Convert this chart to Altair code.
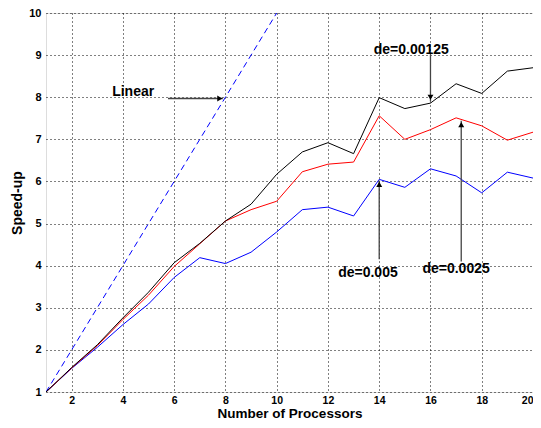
import altair as alt
import pandas as pd

procs = list(range(1, 21))
de_00125 = [1.0, 1.58, 2.12, 2.76, 3.37, 4.07, 4.53, 5.06, 5.46, 6.17, 6.70, 6.92, 6.66, 7.99, 7.73, 7.86, 8.32, 8.09, 8.62, 8.70]
de_0025 = [1.0, 1.57, 2.10, 2.72, 3.30, 3.98, 4.52, 5.06, 5.33, 5.53, 6.23, 6.41, 6.46, 7.56, 7.00, 7.23, 7.51, 7.32, 6.98, 7.17]
de_005 = [1.0, 1.56, 2.06, 2.60, 3.09, 3.72, 4.19, 4.05, 4.32, 4.80, 5.33, 5.39, 5.18, 6.05, 5.86, 6.30, 6.13, 5.73, 6.22, 6.08]
linear_x = list(range(1, 11))
linear_y = list(range(1, 11))

# annotations (data coordinates)
label_text = ["Linear", "de=0.00125", "de=0.005", "de=0.0025"]
label_x = [4.4, 15.25, 13.56, 17.0]
label_y = [8.12, 9.13, 3.83, 3.92]

arrow_x = [5.76, 16.0, 14.0, 17.2]
arrow_x2 = [7.9, 16.0, 14.0, 17.2]
arrow_y = [7.97, 9.02, 4.15, 4.1]
arrow_y2 = [7.97, 7.9, 6.02, 7.44]
head_x = [7.78, 16.0, 14.0, 17.2]
head_y = [7.97, 8.0, 5.93, 7.35]
head_shape = ["triangle-right", "triangle-down", "triangle-up", "triangle-up"]

series_names = ["de=0.005", "de=0.0025", "de=0.00125"]
series_vals = [de_005, de_0025, de_00125]
rows = []
for name, vals in zip(series_names, series_vals):
    for p, v in zip(procs, vals):
        rows.append({"p": p, "s": v, "series": name})
df = pd.DataFrame(rows)
lin = pd.DataFrame({"p": linear_x, "s": linear_y})
labels = pd.DataFrame({"x": label_x, "y": label_y, "t": label_text})
arrows = pd.DataFrame({"x": arrow_x, "x2": arrow_x2, "y": arrow_y, "y2": arrow_y2})
heads = pd.DataFrame({"x": head_x, "y": head_y, "shape": head_shape})

FONT = "Liberation Sans"
xscale = alt.Scale(domain=[1, 20], nice=False, zero=False)
yscale = alt.Scale(domain=[1, 10], nice=False, zero=False)

xaxis = alt.Axis(values=list(range(2, 21, 2)), title="Number of Processors", grid=True,
                 gridDash=[1, 3], gridColor="black", gridOpacity=1, gridWidth=1,
                 ticks=False, domain=False, labelFont=FONT, labelFontWeight="bold",
                 labelFontSize=10.5, labelColor="black", labelPadding=3,
                 titleFont=FONT, titleFontWeight="bold", titleFontSize=13.5,
                 titleColor="black", titlePadding=1)
yaxis = alt.Axis(values=list(range(1, 11)), title="Speed-up", grid=True,
                 gridDash=[1, 3], gridColor="black", gridOpacity=1, gridWidth=1,
                 ticks=False, domain=False, labelFont=FONT, labelFontWeight="bold",
                 labelFontSize=11, labelColor="black", labelPadding=5,
                 titleFont=FONT, titleFontWeight="bold", titleFontSize=14,
                 titleColor="black", titlePadding=4)

base_lines = alt.Chart(df).mark_line(strokeWidth=1, clip=True).encode(
    x=alt.X("p:Q", scale=xscale, axis=xaxis),
    y=alt.Y("s:Q", scale=yscale, axis=yaxis),
    color=alt.Color("series:N", scale=alt.Scale(domain=series_names,
                    range=["#0000ff", "#ff0000", "#000000"]), legend=None),
    order=alt.Order("p:Q"),
)

linear = alt.Chart(lin).mark_line(strokeWidth=1, color="#0000ff", strokeDash=[6, 4], clip=True).encode(
    x=alt.X("p:Q", scale=xscale),
    y=alt.Y("s:Q", scale=yscale),
)

arrow_lines = alt.Chart(arrows).mark_rule(color="#444444", strokeWidth=1.3).encode(
    x=alt.X("x:Q", scale=xscale), x2="x2:Q",
    y=alt.Y("y:Q", scale=yscale), y2="y2:Q",
)

arrow_heads = alt.Chart(heads).mark_point(filled=True, color="black", size=35, opacity=1).encode(
    x=alt.X("x:Q", scale=xscale),
    y=alt.Y("y:Q", scale=yscale),
    shape=alt.Shape("shape:N", scale=None),
)

texts = alt.Chart(labels).mark_text(font=FONT, fontWeight="bold", fontSize=14, color="black",
                                   align="center", baseline="middle").encode(
    x=alt.X("x:Q", scale=xscale),
    y=alt.Y("y:Q", scale=yscale),
    text="t:N",
)

chart = alt.layer(linear, base_lines, arrow_lines, arrow_heads, texts).properties(
    width=487, height=379,
    autosize=alt.AutoSizeParams(type="none"),
    padding={"left": 38, "top": 5, "right": 0, "bottom": 28},
).configure_view(stroke="black", strokeWidth=2).configure(background="white")

chart.save("out.html", embed_options={"renderer": "svg", "actions": False})
